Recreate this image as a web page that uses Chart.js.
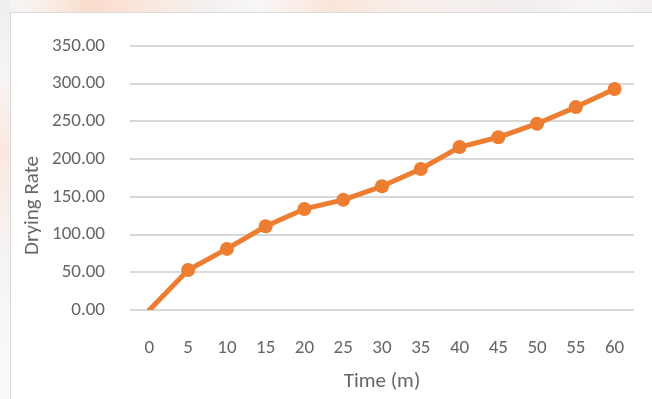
<!DOCTYPE html>
<html>
<head>
<meta charset="utf-8">
<script src="https://cdn.jsdelivr.net/npm/chart.js@4"></script>
<style>
  html, body { margin: 0; padding: 0; }
  body { width: 652px; height: 399px; position: relative; overflow: hidden; background: #ffffff; }
  .mark { position: absolute; left: 0; top: 0; width: 652px; height: 12px;
          background: linear-gradient(90deg, #f1eeee 0px, #f7f4f4 20px, #fbe9df 60px, #f9dccb 90px, #fbe8de 150px, #f3efee 200px, #f8f6f6 260px, #fbe6da 330px, #f6efec 420px, #f2eded 520px, #f8f5f5 600px, #f3efef 652px); }
  .mark-left { position: absolute; left: 0; top: 0; width: 10px; height: 399px;
          background: linear-gradient(180deg, #f0eded 0px, #f7f4f4 80px, #fbe8de 150px, #f6f2f2 240px, #fbfafa 399px); }
  .frame { position: absolute; left: 10px; top: 12px; width: 700px; height: 450px;
           border: 1px solid #d9d9d9; background: #ffffff; box-sizing: border-box; }
  canvas { position: absolute; left: 0; top: 0; }
</style>
</head>
<body>
<div class="mark"></div>
<div class="mark-left"></div>
<div class="frame"></div>
<canvas id="c" width="652" height="399"></canvas>
<script>
// Drying time in minutes and measured drying rate
const timeLabels = ['0', '5', '10', '15', '20', '25', '30', '35', '40', '45', '50', '55', '60'];
const dryingRate = [0, 53, 81, 111, 134, 146, 164, 187, 216, 229, 247, 269, 293];
const yTicks = [0, 50, 100, 150, 200, 250, 300, 350];
const yTitle = 'Drying Rate';
const xTitle = 'Time (m)';

const textColor = '#666666';
const fontFamily = "Carlito, Lato, 'Open Sans', 'Liberation Sans', sans-serif";

// Vertical axis title, centred on the whole plot block rather than the grid only
const yTitlePlugin = {
  id: 'yTitle',
  afterDraw(chart) {
    const ctx = chart.ctx;
    const area = chart.chartArea;
    ctx.save();
    ctx.translate(area.left - 97, (area.top + chart.height) / 2 - 17);
    ctx.rotate(-Math.PI / 2);
    ctx.fillStyle = textColor;
    ctx.font = '300 21px ' + fontFamily;
    ctx.textAlign = 'center';
    ctx.textBaseline = 'middle';
    ctx.fillText(yTitle, 0, 0);
    ctx.restore();
  }
};

new Chart(document.getElementById('c'), {
  type: 'line',
  data: {
    labels: timeLabels,
    datasets: [{
      data: dryingRate,
      borderColor: '#ED7D31',
      backgroundColor: '#ED7D31',
      borderWidth: 5,
      borderCapStyle: 'round',
      borderJoinStyle: 'round',
      pointRadius: ctx => ctx.dataIndex === 0 ? 0 : 7,
      pointHoverRadius: ctx => ctx.dataIndex === 0 ? 0 : 7,
      pointBorderWidth: 0,
      tension: 0,
      fill: false
    }]
  },
  options: {
    responsive: false,
    animation: false,
    layout: { padding: { left: 14, right: 18, top: 46, bottom: 0 } },
    plugins: { legend: { display: false }, tooltip: { enabled: false } },
    scales: {
      x: {
        offset: true,
        grid: { display: false, drawTicks: false },
        border: { display: false },
        ticks: { color: textColor, padding: 27, maxRotation: 0,
                 font: { family: fontFamily, size: 19, weight: 300 } },
        title: { display: true, text: xTitle, color: textColor,
                 padding: { top: 0, bottom: 5 },
                 font: { family: fontFamily, size: 21, weight: 300 } },
        afterFit: axis => { axis.height = 89; }
      },
      y: {
        min: 0,
        max: 350,
        afterBuildTicks: axis => { axis.ticks = yTicks.map(v => ({ value: v })); },
        grid: { color: '#d9d9d9', lineWidth: 2, drawTicks: false },
        border: { display: false },
        ticks: { color: textColor, padding: 25,
                 font: { family: fontFamily, size: 19, weight: 300 },
                 callback: v => Number(v).toFixed(2) },
        title: { display: false },
        afterFit: axis => { axis.width = 116; }
      }
    }
  },
  plugins: [yTitlePlugin]
});
</script>
</body>
</html>
